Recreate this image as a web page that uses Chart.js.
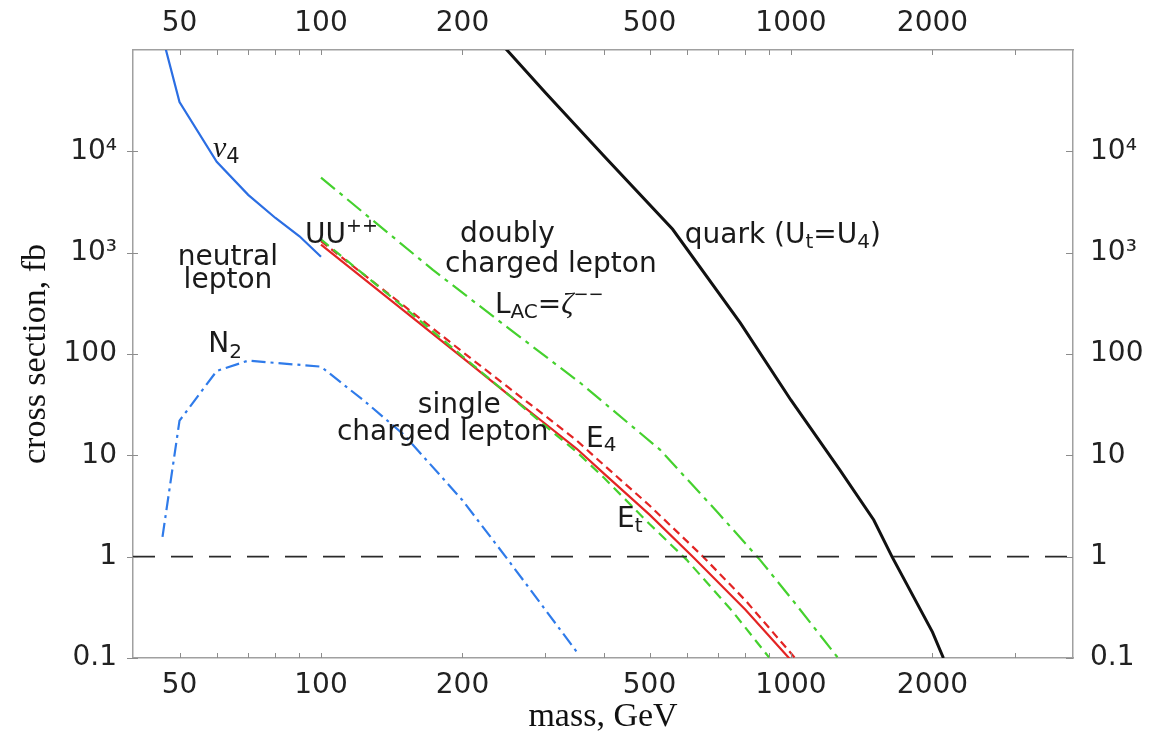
<!DOCTYPE html>
<html>
<head>
<meta charset="utf-8">
<title>cross section vs mass</title>
<script src="https://cdn.jsdelivr.net/npm/chart.js@4.4.1/dist/chart.umd.min.js"></script>
<style>
  html, body { margin: 0; padding: 0; background: #fff; }
  canvas { display: block; }
</style>
</head>
<body>
<canvas id="chart" width="1149" height="734"></canvas>
<script>
// ── data (mass in GeV, cross section in fb) ──
const xMin = Math.pow(10, 1.6);
const xMax = Math.pow(10, 3.6);
const xTicks = [50, 100, 200, 500, 1000, 2000];
const xMinorTicks = [50, 60, 70, 80, 90, 100, 200, 300, 400, 500, 600, 700, 800, 900, 1000, 2000, 3000];
const yTicks = [0.1, 1, 10, 100, 1000, 10000];
const yTickLabels = ['0.1', '1', '10', '100', '10³', '10⁴'];

const nu4Mass = [45, 50, 60, 70, 80, 90, 100];
const nu4Xsec = [2.0e5, 30700, 7870, 3720, 2200, 1450, 910];

const n2Mass = [46, 50, 60, 70, 100, 125, 150, 200, 250, 300, 350];
const n2Xsec = [1.57, 22, 68, 86, 75, 33, 16, 3.6, 0.93, 0.3, 0.115];

const eSingleMass = [100, 150, 200, 250, 300, 350, 400, 500, 618, 800, 1000];
const eSingleXsec = [1200, 268, 92, 40, 20.5, 11.6, 6.6, 2.6, 1.0, 0.3, 0.095];

const e4Mass = [100, 150, 200, 250, 300, 350, 400, 500, 650, 800, 1020];
const e4Xsec = [1300, 300, 105, 47, 24.5, 14, 8, 3.2, 1.0, 0.37, 0.1];

const etMass = [100, 150, 200, 250, 300, 350, 400, 500, 600, 750, 900];
const etXsec = [1350, 290, 95, 40, 19.5, 10.8, 6.0, 2.1, 0.93, 0.29, 0.1];

const doublyMass = [100, 173, 250, 356, 526, 700, 859, 1009, 1259];
const doublyXsec = [5500, 676, 181, 52, 11.4, 2.7, 0.93, 0.37, 0.1];

const quarkMass = [240, 300, 400, 560, 780, 1000, 1270, 1500, 1640, 2000, 2110];
const quarkXsec = [1.2e5, 3.8e4, 9000, 1700, 203, 35, 7.2, 2.3, 1.0, 0.18, 0.1];

const limitMass = [xMin, xMax];
const limitXsec = [1, 1];

const pts = (xs, ys) => xs.map((x, i) => ({ x, y: ys[i] }));

// ── text on the plot, placed in log10 data units ──
const SANS = '"DejaVu Sans", sans-serif';
const f = (size, fam = SANS, style = '') => `${style} ${size}px ${fam}`.trim();
const GREEK = f(30, '"Liberation Serif", serif', 'italic');
const notes = [
  { lm: 1.770, ls: 3.944, runs: [{ t: 'ν', font: GREEK }, { t: '4', font: f(21), dy: 6 }] },
  { lm: 1.966, ls: 3.095, runs: [{ t: 'UU', font: f(28) }, { t: '++', font: f(19), dy: -11 }] },
  { lm: 1.802, ls: 2.878, align: 'center', runs: [{ t: 'neutral', font: f(28) }] },
  { lm: 1.802, ls: 2.651, align: 'center', runs: [{ t: 'lepton', font: f(28) }] },
  { lm: 1.760, ls: 2.020, runs: [{ t: 'N', font: f(28) }, { t: '2', font: f(20), dy: 6 }] },
  { lm: 2.296, ls: 3.105, runs: [{ t: 'doubly', font: f(28) }] },
  { lm: 2.264, ls: 2.809, runs: [{ t: 'charged lepton', font: f(28) }] },
  { lm: 2.370, ls: 2.405, runs: [{ t: 'L', font: f(28) }, { t: 'AC', font: f(20), dy: 5 },
      { t: '=', font: f(28) }, { t: 'ζ', font: GREEK }, { t: '−−', font: f(18), dy: -13 }] },
  { lm: 2.774, ls: 3.095, runs: [{ t: 'quark (U', font: f(28) }, { t: 't', font: f(20), dy: 5 },
      { t: '=U', font: f(28) }, { t: '4', font: f(20), dy: 5 }, { t: ')', font: f(28) }] },
  { lm: 2.206, ls: 1.418, runs: [{ t: 'single', font: f(28) }] },
  { lm: 2.034, ls: 1.151, runs: [{ t: 'charged lepton', font: f(28) }] },
  { lm: 2.564, ls: 1.082, runs: [{ t: 'E', font: f(28) }, { t: '4', font: f(20), dy: 4 }] },
  { lm: 2.630, ls: 0.293, runs: [{ t: 'E', font: f(28) }, { t: 't', font: f(20), dy: 5 }] }
];

const notesPlugin = {
  id: 'notes',
  afterDraw(chart) {
    const { ctx, scales } = chart;
    ctx.save();
    ctx.fillStyle = '#1a1a1a';
    ctx.textBaseline = 'alphabetic';
    ctx.textAlign = 'left';
    notes.forEach(n => {
      const x = scales.x.getPixelForValue(Math.pow(10, n.lm));
      const y = scales.y.getPixelForValue(Math.pow(10, n.ls));
      let w = 0;
      n.runs.forEach(r => { ctx.font = r.font; w += ctx.measureText(r.t).width; });
      let cx = n.align === 'center' ? x - w / 2 : x;
      n.runs.forEach(r => {
        ctx.font = r.font;
        ctx.fillText(r.t, cx, y + (r.dy || 0));
        cx += ctx.measureText(r.t).width;
      });
    });
    ctx.restore();
  }
};

// small tick marks on the frame
const frameTicks = {
  id: 'frameTicks',
  afterDatasetsDraw(chart) {
    const { ctx, chartArea: a, scales } = chart;
    ctx.save();
    ctx.strokeStyle = '#8c8c8c';
    ctx.lineWidth = 1;
    ctx.beginPath();
    xMinorTicks.forEach(m => {
      const px = Math.round(scales.x.getPixelForValue(m)) + 0.5;
      ctx.moveTo(px, a.top); ctx.lineTo(px, a.top + 5);
      ctx.moveTo(px, a.bottom); ctx.lineTo(px, a.bottom - 5);
    });
    yTicks.forEach(v => {
      const py = Math.round(scales.y.getPixelForValue(v)) + 0.5;
      ctx.moveTo(a.left - 6, py); ctx.lineTo(a.left + 5, py);
      ctx.moveTo(a.right - 7, py); ctx.lineTo(a.right, py);
    });
    ctx.stroke();
    ctx.restore();
  }
};

const line = (data, color, width, dash) => ({
  data, borderColor: color, borderWidth: width, borderDash: dash || [],
  pointRadius: 0, tension: 0, fill: false, clip: 0
});

const tickFont = { family: 'DejaVu Sans', size: 28 };
const border = { display: true, color: '#a0a0a0', width: 1.5 };

new Chart(document.getElementById('chart'), {
  type: 'line',
  data: {
    datasets: [
      line(pts(limitMass, limitXsec), '#2a2a2a', 1.6, [22, 16]),
      line(pts(n2Mass, n2Xsec), '#2f7bea', 2.2, [14, 5, 3, 5]),
      line(pts(nu4Mass, nu4Xsec), '#2b6ee3', 2.2),
      line(pts(etMass, etXsec), '#45d12e', 2.2, [10, 6]),
      line(pts(eSingleMass, eSingleXsec), '#e32424', 2.2),
      line(pts(e4Mass, e4Xsec), '#e32424', 2.2, [8, 5]),
      line(pts(doublyMass, doublyXsec), '#45d12e', 2.2, [18, 6, 4, 6]),
      line(pts(quarkMass, quarkXsec), '#111111', 3)
    ]
  },
  options: {
    responsive: false,
    animation: false,
    devicePixelRatio: 1,
    layout: { padding: 0 },
    plugins: { legend: { display: false }, tooltip: { enabled: false } },
    scales: {
      x: {
        type: 'logarithmic', position: 'bottom', min: xMin, max: xMax,
        afterBuildTicks: s => { s.ticks = xTicks.map(value => ({ value })); },
        afterFit: s => { s.height = 76; },
        grid: { display: false, drawTicks: false },
        border,
        ticks: { font: tickFont, color: '#222', padding: 11, maxRotation: 0, autoSkip: false, callback: v => String(v) },
        title: { display: true, text: 'mass, GeV', color: '#111',
                 font: { family: 'Liberation Serif', size: 34, lineHeight: 1 }, padding: { top: 0, bottom: 0 } }
      },
      x2: {
        type: 'logarithmic', position: 'top', min: xMin, max: xMax,
        afterBuildTicks: s => { s.ticks = xTicks.map(value => ({ value })); },
        afterFit: s => { s.height = 50; },
        grid: { display: false, drawTicks: false },
        border,
        ticks: { font: tickFont, color: '#222', padding: 9, maxRotation: 0, autoSkip: false, callback: v => String(v) }
      },
      y: {
        type: 'logarithmic', position: 'left', min: 0.1, max: 1e5,
        afterBuildTicks: s => { s.ticks = yTicks.map(value => ({ value })); },
        afterFit: s => { s.width = 133; },
        grid: { display: false, drawTicks: false },
        border,
        ticks: { font: tickFont, color: '#222', padding: 16, autoSkip: false,
                 callback: v => yTickLabels[yTicks.indexOf(v)] },
        title: { display: true, text: 'cross section, fb', color: '#111',
                 font: { family: 'Liberation Serif', size: 34, lineHeight: 1 }, padding: { top: 19, bottom: 0 } }
      },
      y2: {
        type: 'logarithmic', position: 'right', min: 0.1, max: 1e5,
        afterBuildTicks: s => { s.ticks = yTicks.map(value => ({ value })); },
        afterFit: s => { s.width = 76; },
        grid: { display: false, drawTicks: false },
        border,
        ticks: { font: tickFont, color: '#222', padding: 17, autoSkip: false,
                 callback: v => yTickLabels[yTicks.indexOf(v)] }
      }
    }
  },
  plugins: [frameTicks, notesPlugin]
});
</script>
</body>
</html>
